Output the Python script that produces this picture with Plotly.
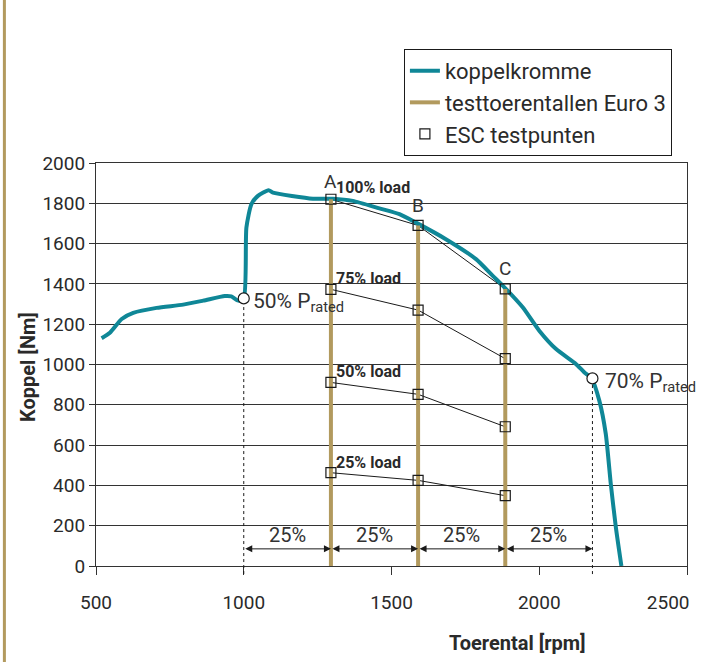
import plotly.graph_objects as go

# Full-load torque curve (rpm, Nm)
curve_rpm = [519, 547, 587, 626, 705, 795, 863, 936, 958, 981, 1000, 1009, 1026, 1048,
             1084, 1099, 1234, 1302, 1369, 1459, 1527, 1583, 1684, 1786, 1842, 1882,
             1944, 2000, 2056, 2124, 2152, 2177, 2203, 2225, 2242, 2259, 2278]
curve_torque = [1130, 1157, 1226, 1256, 1281, 1297, 1317, 1340, 1338, 1317, 1328, 1680, 1796, 1837,
                1865, 1853, 1823, 1823, 1812, 1775, 1746, 1704, 1622, 1523, 1441, 1383,
                1284, 1168, 1078, 1003, 962, 931, 822, 657, 409, 195, 0]

# Test speeds A, B, C and the 50% / 70% rated-power speeds
speed_labels = ["A", "B", "C"]
test_speeds = [1295, 1590, 1885]
n_lo, n_hi = 1000, 2180
torque_at_n_lo = 1328
torque_at_n_hi = 931

# ESC test points per load level (torque at A, B, C)
load_names = ["100% load", "75% load", "50% load", "25% load"]
load_torque = [
    [1820, 1690, 1375],
    [1373, 1270, 1029],
    [911, 852, 691],
    [463, 425, 349],
]

x_ticks = [500, 1000, 1500, 2000, 2500]
# last label is padded so it stays inside the page edge
x_tick_text = ["500", "1000", "1500", "2000", "2500" + "\u00a0" * 8]
y_ticks = list(range(0, 2001, 200))

TEAL = "#0f8797"
BROWN = "#b29a5e"
INK = "#2a2a2a"
FONT = "Roboto"

fig = go.Figure()

# ESC connecting lines per load level
for row in load_torque:
    fig.add_trace(go.Scatter(x=test_speeds, y=row, mode="lines",
                             line=dict(color="#1a1a1a", width=1),
                             showlegend=False, hoverinfo="skip"))

# Test speed verticals (up to the full-load point)
bx, by = [], []
for s, t in zip(test_speeds, load_torque[0]):
    bx += [s, s, None]
    by += [0, t, None]

fig.add_trace(go.Scatter(x=curve_rpm, y=curve_torque, mode="lines", name="koppelkromme",
                         line=dict(color=TEAL, width=4, shape="spline", smoothing=0.6)))
fig.add_trace(go.Scatter(x=bx, y=by, mode="lines", name="testtoerentallen Euro 3",
                         line=dict(color=BROWN, width=4)))

px, py = [], []
for row in load_torque:
    px += test_speeds
    py += row
fig.add_trace(go.Scatter(x=px, y=py, mode="markers", name="ESC testpunten",
                         marker=dict(symbol="square-open", size=10,
                                     color="#1a1a1a", line=dict(width=1.2))))

# Rated-power markers
fig.add_trace(go.Scatter(x=[n_lo, n_hi], y=[torque_at_n_lo, torque_at_n_hi], mode="markers",
                         marker=dict(symbol="circle", size=11, color="white",
                                     line=dict(color="#1a1a1a", width=1.2)),
                         showlegend=False, hoverinfo="skip"))

shapes = []
for n, t in [(n_lo, torque_at_n_lo), (n_hi, torque_at_n_hi)]:
    shapes.append(dict(type="line", xref="x", yref="paper", x0=n, x1=n,
                       y0=-0.02, y1=t / 2000 - 0.014,
                       line=dict(color="#1a1a1a", width=1, dash="dot")))
# decorative rule at left edge of page
shapes.append(dict(type="line", xref="paper", yref="paper", x0=-0.155, x1=-0.155,
                   y0=-0.25, y1=1.42, line=dict(color=BROWN, width=3)))

annotations = []
# Arrows between the speed steps
steps = [n_lo] + test_speeds + [n_hi]
for a, b in zip(steps[:-1], steps[1:]):
    annotations.append(dict(x=b, y=85, ax=a, ay=85, xref="x", yref="y", axref="x", ayref="y",
                            showarrow=True, arrowhead=2, startarrowhead=2, arrowside="end+start",
                            arrowsize=1.4, startarrowsize=1.4, arrowwidth=1, arrowcolor="#1a1a1a",
                            text=""))
    annotations.append(dict(x=(a + b) / 2, y=152, xref="x", yref="y", text="25%",
                            showarrow=False, xanchor="center", yanchor="middle",
                            font=dict(family=FONT, size=20, color="#333")))

# Speed letters
for lbl, s, t, dy in zip(speed_labels, test_speeds, load_torque[0], [18, 20, 20]):
    annotations.append(dict(x=s, y=t, xref="x", yref="y", text=lbl, showarrow=False,
                            xanchor="center", yanchor="middle", yshift=dy,
                            font=dict(family=FONT, size=19, color="#333")))

# Load labels
for name, row, yoff in zip(load_names, load_torque, [60, 55, 55, 50]):
    annotations.append(dict(x=test_speeds[0], y=row[0] + yoff, xref="x", yref="y",
                            text="<b>" + name + "</b>", showarrow=False, xanchor="left",
                            yanchor="middle", xshift=3,
                            font=dict(family=FONT, size=16, color=INK)))

annotations.append(dict(x=n_lo, y=torque_at_n_lo, xref="x", yref="y",
                        text="50% P<sub>rated</sub>", showarrow=False, xanchor="left",
                        yanchor="middle", xshift=7, yshift=-4,
                        font=dict(family=FONT, size=21, color="#333")))
annotations.append(dict(x=n_hi, y=torque_at_n_hi, xref="x", yref="y",
                        text="70% P<sub>rated</sub>", showarrow=False, xanchor="left",
                        yanchor="middle", xshift=11, yshift=-4,
                        font=dict(family=FONT, size=21, color="#333")))

annotations.append(dict(x=0.714, y=-0.191, xref="paper", yref="paper", text="<b>Toerental [rpm]</b>",
                        showarrow=False, xanchor="center", yanchor="middle",
                        font=dict(family=FONT, size=20, color=INK)))
annotations.append(dict(x=-0.115, y=0.494, xref="paper", yref="paper", text="<b>Koppel [Nm]</b>",
                        textangle=-90, showarrow=False, xanchor="center", yanchor="middle",
                        font=dict(family=FONT, size=20, color=INK)))

fig.update_layout(
    width=706, height=662,
    margin=dict(l=96, r=19, t=163, b=96, autoexpand=False),
    paper_bgcolor="white", plot_bgcolor="white",
    font=dict(family=FONT, size=19, color=INK),
    showlegend=True,
    legend=dict(x=0.521, y=1.283, xanchor="left", yanchor="top",
                bordercolor="#1a1a1a", borderwidth=1, bgcolor="white",
                font=dict(family=FONT, size=22, color=INK), tracegroupgap=0,
                itemwidth=30),
    shapes=shapes,
    annotations=annotations,
)
fig.update_xaxes(range=[500, 2500], tickvals=x_ticks, ticktext=x_tick_text,
                 showgrid=False, zeroline=False,
                 showline=True, linecolor="#333", linewidth=1.2, mirror=True,
                 ticks="outside", ticklen=8, tickcolor="#333", ticklabelstandoff=11,
                 ticklabeloverflow="allow", automargin=False,
                 tickfont=dict(family=FONT, size=19, color=INK))
fig.update_yaxes(range=[0, 2000], tickvals=y_ticks, showgrid=True, gridcolor="#333",
                 gridwidth=1.3, zeroline=False, showline=True, linecolor="#333", linewidth=1.2,
                 mirror=True, ticks="outside", ticklen=6, tickcolor="#333", automargin=False,
                 tickfont=dict(family=FONT, size=19, color=INK))

fig.write_html("out.html")
